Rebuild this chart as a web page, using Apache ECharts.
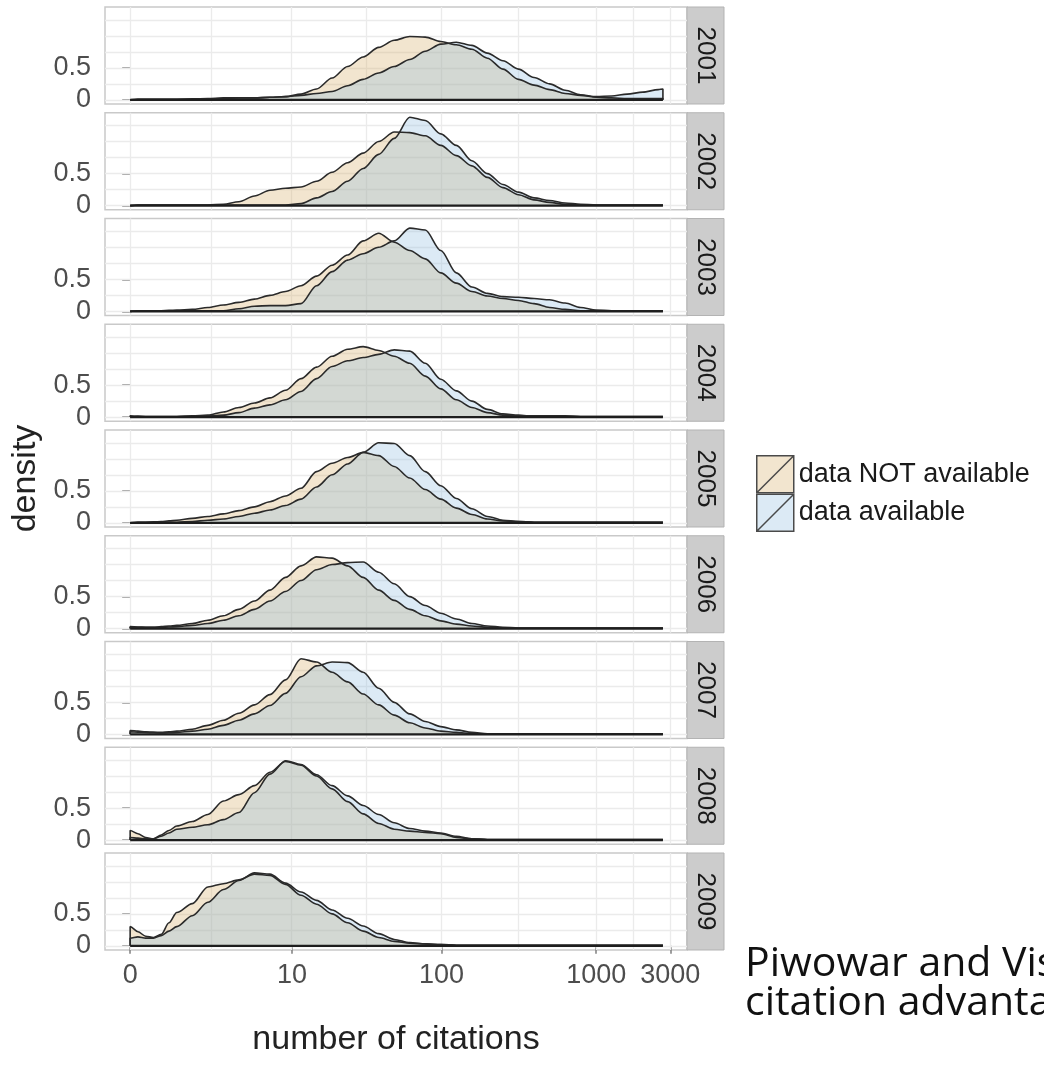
<!DOCTYPE html>
<html>
<head>
<meta charset="utf-8">
<title>density of citations</title>
<script src="https://cdn.jsdelivr.net/npm/echarts@6/dist/echarts.min.js"></script>
<style>
  html, body { margin: 0; padding: 0; background: #fff; }
  #chart { width: 1044px; height: 1070px; }
</style>
</head>
<body>
<div id="chart"></div>
<script>
// x is log10(citations + 1)
var xs = [0, 0.05, 0.1, 0.15, 0.2, 0.25, 0.3,
          0.4, 0.5, 0.6, 0.7, 0.8, 0.9,
          1.0, 1.1, 1.2, 1.3, 1.4, 1.5, 1.6, 1.7, 1.8, 1.9,
          2.0, 2.1, 2.2, 2.3, 2.4, 2.5, 2.6, 2.7, 2.8, 2.9,
          3.0, 3.1, 3.2, 3.3, 3.4, 3.43];

var years = ['2001', '2002', '2003', '2004', '2005', '2006', '2007', '2008', '2009'];
var seriesNames = ['data NOT available', 'data available'];

var citationTicks = [0, 10, 100, 1000, 3000];
var citationLabels = ['0', '10', '100', '1000', '3000'];
var densityTicks = [0, 0.5];
var densityLabels = ['0', '0.5'];
var densityGrid = [0, 0.25, 0.5, 0.75, 1, 1.25];

var notAvail2001 = [0.01,0.01,0.01,0.01,0.01,0.01,0.01, 0.015,0.02,0.03,0.03,0.03,0.04,
  0.05,0.09,0.17,0.34,0.52,0.67,0.82,0.93,0.99,0.98, 0.91,0.86,0.79,0.65,0.48,0.32,0.23,0.16,0.1,0.07,
  0.04,0.03,0.02,0.02,0.02,0.02];
var avail2001 = [0.01,0.01,0.01,0.01,0.01,0.01,0.01, 0.01,0.015,0.02,0.03,0.03,0.04,
  0.05,0.07,0.1,0.13,0.22,0.32,0.42,0.52,0.63,0.76, 0.87,0.9,0.85,0.73,0.61,0.48,0.35,0.25,0.15,0.08,
  0.05,0.06,0.09,0.12,0.16,0.17];

var notAvail2002 = [0.01,0.01,0.01,0.01,0.01,0.01,0.01, 0.01,0.01,0.02,0.06,0.15,0.24,
  0.27,0.29,0.38,0.52,0.67,0.82,1.0,1.15,1.14,1.09, 0.94,0.78,0.62,0.44,0.28,0.17,0.09,0.05,0.02,0.01,
  0.01,0.01,0.01,0.01,0.01,0.01];
var avail2002 = [0.01,0.01,0.01,0.01,0.01,0.01,0.01, 0.01,0.01,0.01,0.01,0.01,0.01,
  0.01,0.03,0.12,0.22,0.38,0.58,0.8,1.05,1.38,1.33, 1.12,0.94,0.7,0.5,0.33,0.21,0.12,0.08,0.04,0.02,
  0.01,0.01,0.01,0.01,0.01,0.01];

var notAvail2003 = [0.01,0.01,0.01,0.01,0.01,0.015,0.02, 0.03,0.06,0.1,0.14,0.19,0.25,
  0.31,0.4,0.55,0.72,0.88,1.1,1.22,1.08,0.95,0.82, 0.6,0.44,0.31,0.24,0.2,0.17,0.12,0.06,0.03,0.01,
  0.01,0.01,0.01,0.01,0.01,0.01];
var avail2003 = [0.01,0.01,0.01,0.01,0.01,0.01,0.01, 0.01,0.01,0.01,0.04,0.08,0.09,
  0.09,0.12,0.4,0.62,0.8,0.9,1.0,1.1,1.3,1.27, 0.95,0.6,0.38,0.28,0.23,0.22,0.2,0.18,0.13,0.06,
  0.02,0.01,0.01,0.01,0.01,0.01];

var notAvail2004 = [0.02,0.015,0.01,0.01,0.01,0.01,0.01, 0.02,0.03,0.08,0.15,0.22,0.3,
  0.42,0.6,0.78,0.95,1.06,1.1,1.04,0.95,0.84,0.64, 0.44,0.27,0.15,0.07,0.03,0.02,0.02,0.02,0.02,0.01,
  0.01,0.01,0.01,0.01,0.01,0.01];
var avail2004 = [0.01,0.01,0.01,0.01,0.01,0.01,0.01, 0.01,0.02,0.03,0.07,0.14,0.19,
  0.27,0.4,0.6,0.79,0.88,0.93,0.98,1.05,1.03,0.84, 0.59,0.41,0.25,0.12,0.05,0.03,0.01,0.01,0.01,0.01,
  0.01,0.01,0.01,0.01,0.01,0.01];

var notAvail2005 = [0.01,0.01,0.01,0.015,0.02,0.03,0.04, 0.07,0.1,0.14,0.19,0.25,0.33,
  0.42,0.54,0.8,0.93,1.02,1.1,1.05,0.88,0.7,0.52, 0.37,0.23,0.13,0.06,0.03,0.02,0.01,0.01,0.01,0.01,
  0.01,0.01,0.01,0.01,0.01,0.01];
var avail2005 = [0.01,0.01,0.01,0.01,0.01,0.01,0.01, 0.02,0.04,0.06,0.1,0.15,0.2,
  0.27,0.37,0.56,0.75,0.92,1.1,1.25,1.24,1.05,0.8, 0.58,0.38,0.22,0.1,0.04,0.02,0.01,0.01,0.01,0.01,
  0.01,0.01,0.01,0.01,0.01,0.01];

var notAvail2006 = [0.03,0.025,0.02,0.02,0.03,0.04,0.05, 0.08,0.13,0.2,0.3,0.43,0.6,
  0.8,0.98,1.12,1.1,0.98,0.8,0.6,0.44,0.3,0.2, 0.12,0.07,0.04,0.02,0.01,0.01,0.01,0.01,0.01,0.01,
  0.01,0.01,0.01,0.01,0.01,0.01];
var avail2006 = [0.02,0.02,0.02,0.02,0.02,0.025,0.03, 0.05,0.08,0.13,0.2,0.3,0.43,
  0.58,0.75,0.92,1.0,1.03,1.04,0.88,0.7,0.5,0.36, 0.24,0.15,0.08,0.04,0.02,0.01,0.01,0.01,0.01,0.01,
  0.01,0.01,0.01,0.01,0.01,0.01];

var notAvail2007 = [0.06,0.05,0.04,0.035,0.03,0.04,0.05, 0.08,0.14,0.22,0.33,0.46,0.62,
  0.85,1.18,1.13,0.97,0.82,0.63,0.46,0.3,0.18,0.1, 0.05,0.03,0.01,0.01,0.01,0.01,0.01,0.01,0.01,0.01,
  0.01,0.01,0.01,0.01,0.01,0.01];
var avail2007 = [0.04,0.035,0.03,0.025,0.02,0.025,0.03, 0.05,0.08,0.14,0.22,0.32,0.45,
  0.64,0.9,1.07,1.13,1.12,0.97,0.72,0.5,0.32,0.2, 0.12,0.07,0.03,0.01,0.01,0.01,0.01,0.01,0.01,0.01,
  0.01,0.01,0.01,0.01,0.01,0.01];

var notAvail2008 = [0.15,0.1,0.04,0.02,0.08,0.15,0.22, 0.29,0.4,0.61,0.71,0.85,1.06,
  1.23,1.17,1.0,0.8,0.6,0.41,0.26,0.17,0.14,0.12, 0.1,0.04,0.02,0.01,0.01,0.01,0.01,0.01,0.01,0.01,
  0.01,0.01,0.01,0.01,0.01,0.01];
var avail2008 = [0.04,0.03,0.02,0.02,0.06,0.11,0.17, 0.2,0.24,0.32,0.43,0.74,1.03,
  1.24,1.18,1.02,0.85,0.69,0.54,0.4,0.27,0.18,0.14, 0.11,0.06,0.02,0.01,0.01,0.01,0.01,0.01,0.01,0.01,
  0.01,0.01,0.01,0.01,0.01,0.01];

var notAvail2009 = [0.3,0.22,0.15,0.13,0.18,0.36,0.52, 0.66,0.92,0.97,1.03,1.12,1.1,
  0.96,0.79,0.65,0.5,0.36,0.23,0.13,0.07,0.04,0.03, 0.02,0.01,0.01,0.01,0.01,0.01,0.01,0.01,0.01,0.01,
  0.01,0.01,0.01,0.01,0.01,0.01];
var avail2009 = [0.12,0.14,0.12,0.12,0.16,0.23,0.3, 0.47,0.68,0.88,1.02,1.14,1.12,
  0.98,0.84,0.71,0.56,0.43,0.31,0.19,0.1,0.05,0.03, 0.02,0.01,0.01,0.01,0.01,0.01,0.01,0.01,0.01,0.01,
  0.01,0.01,0.01,0.01,0.01,0.01];

var notAvail = [notAvail2001, notAvail2002, notAvail2003, notAvail2004, notAvail2005,
                notAvail2006, notAvail2007, notAvail2008, notAvail2009];
var avail = [avail2001, avail2002, avail2003, avail2004, avail2005,
             avail2006, avail2007, avail2008, avail2009];

// layout
var panelLeft = 105, panelWidth = 582, firstTop = 7, panelStep = 105.75, panelHeight = 97;
var stripWidth = 37;
var font = '"Liberation Sans", Arial, sans-serif';

var xPos = citationTicks.map(function (c) { return Math.log10(c + 1); });
var xMinor = [];
for (var k = 0; k < xPos.length - 1; k++) xMinor.push((xPos[k] + xPos[k + 1]) / 2);

function closed(vals) {
  var pts = [[xs[0], 0]];
  for (var i = 0; i < xs.length; i++) pts.push([xs[i], vals[i]]);
  pts.push([xs[xs.length - 1], 0]);
  return pts;
}

var grids = [], xAxes = [], yAxes = [], series = [], graphics = [];

years.forEach(function (yr, i) {
  var top = firstTop + i * panelStep;
  var last = i === years.length - 1;
  grids.push({
    left: panelLeft, top: top, width: panelWidth, height: panelHeight,
    show: true, backgroundColor: '#fff', borderColor: '#c9c9c9', borderWidth: 1.5
  });
  xAxes.push({
    gridIndex: i, type: 'value', min: -0.162, max: 3.585,
    axisLine: { show: false },
    splitLine: { show: false },
    axisTick: {
      show: last, customValues: xPos, length: 8,
      lineStyle: { color: '#7f7f7f', width: 1.5 }
    },
    axisLabel: {
      show: last, customValues: xPos, margin: 12,
      fontSize: 27, color: '#4d4d4d', fontFamily: font,
      formatter: function (v) {
        for (var j = 0; j < xPos.length; j++) if (Math.abs(xPos[j] - v) < 1e-6) return citationLabels[j];
        return '';
      }
    },
    name: last ? 'number of citations' : '',
    nameLocation: 'middle', nameGap: 73,
    nameTextStyle: { fontSize: 34, color: '#222', fontFamily: font }
  });
  yAxes.push({
    gridIndex: i, type: 'value', min: -0.065, max: 1.45,
    axisLine: { show: false },
    splitLine: { show: false },
    axisTick: {
      show: true, customValues: densityTicks, length: 8,
      lineStyle: { color: '#7f7f7f', width: 1.5 }
    },
    axisLabel: {
      customValues: densityTicks, margin: 14,
      fontSize: 27, color: '#4d4d4d', fontFamily: font,
      formatter: function (v) {
        var j = densityTicks.indexOf(v);
        return j >= 0 ? densityLabels[j] : '';
      }
    },
    name: i === 4 ? 'density' : '',
    nameLocation: 'middle', nameGap: 60, nameRotate: 90,
    nameTextStyle: { fontSize: 34, color: '#222', fontFamily: font }
  });

  var gridLines = [];
  xPos.forEach(function (v) { gridLines.push({ xAxis: v }); });
  xMinor.forEach(function (v) { gridLines.push({ xAxis: v }); });
  densityGrid.forEach(function (v) { gridLines.push({ yAxis: v }); });

  series.push({
    name: seriesNames[0], type: 'line', xAxisIndex: i, yAxisIndex: i,
    data: closed(notAvail[i]), smooth: 0.3, smoothMonotone: 'x',
    showSymbol: false, symbol: 'none', z: 2,
    lineStyle: { color: '#2a2a2a', width: 1.6 },
    itemStyle: { color: '#e9d4ab' },
    areaStyle: { color: '#d4a85f', opacity: 0.3 },
    emphasis: { disabled: true }
  });
  series.push({
    name: seriesNames[1], type: 'line', xAxisIndex: i, yAxisIndex: i,
    data: closed(avail[i]), smooth: 0.3, smoothMonotone: 'x',
    showSymbol: false, symbol: 'none', z: 2,
    lineStyle: { color: '#2a2a2a', width: 1.6 },
    itemStyle: { color: '#b9d5ec' },
    areaStyle: { color: '#8ab9de', opacity: 0.3 },
    emphasis: { disabled: true }
  });
  series.push({
    type: 'line', xAxisIndex: i, yAxisIndex: i, silent: true,
    data: [[xs[0], 0], [xs[xs.length - 1], 0]],
    showSymbol: false, symbol: 'none', z: 3,
    lineStyle: { color: '#1e1e1e', width: 2.4 },
    emphasis: { disabled: true },
    markLine: {
      silent: true, symbol: 'none', z: 1, animation: false,
      label: { show: false },
      lineStyle: { color: '#ebebeb', width: 1.3, type: 'solid' },
      emphasis: { disabled: true },
      data: gridLines
    }
  });

  graphics.push({
    type: 'rect', silent: true,
    shape: { x: panelLeft + panelWidth, y: top, width: stripWidth, height: panelHeight },
    style: { fill: '#cccccc', stroke: '#b3b3b3', lineWidth: 1 }
  });
  graphics.push({
    type: 'text', silent: true,
    x: panelLeft + panelWidth + stripWidth / 2, y: top + panelHeight / 2,
    rotation: -Math.PI / 2,
    style: {
      text: yr, font: '26px ' + font, fill: '#1a1a1a',
      align: 'center', verticalAlign: 'middle'
    }
  });
});

graphics.push({
  type: 'text', silent: true, x: 745, y: 945,
  style: {
    text: 'Piwowar and Vision 2013\ncitation advantage',
    font: '41px "Open Sans", sans-serif', fill: '#111', lineHeight: 39
  }
});

var keyIcon = 'path://M0,0L20,0L20,20L0,20Z M0,20L20,0';

var chart = echarts.init(document.getElementById('chart'));
chart.setOption({
  animation: false,
  backgroundColor: '#fff',
  grid: grids,
  xAxis: xAxes,
  yAxis: yAxes,
  legend: {
    orient: 'vertical', left: 751, top: 450,
    itemWidth: 37, itemHeight: 38, itemGap: 0,
    selectedMode: false,
    textStyle: { fontSize: 27, color: '#1a1a1a', fontFamily: font },
    data: [
      { name: seriesNames[0], icon: keyIcon,
        itemStyle: { color: '#f2e5cf', borderColor: '#4a4a4a', borderWidth: 1.5 } },
      { name: seriesNames[1], icon: keyIcon,
        itemStyle: { color: '#dceaf5', borderColor: '#4a4a4a', borderWidth: 1.5 } }
    ]
  },
  graphic: graphics,
  series: series
});
</script>
</body>
</html>
